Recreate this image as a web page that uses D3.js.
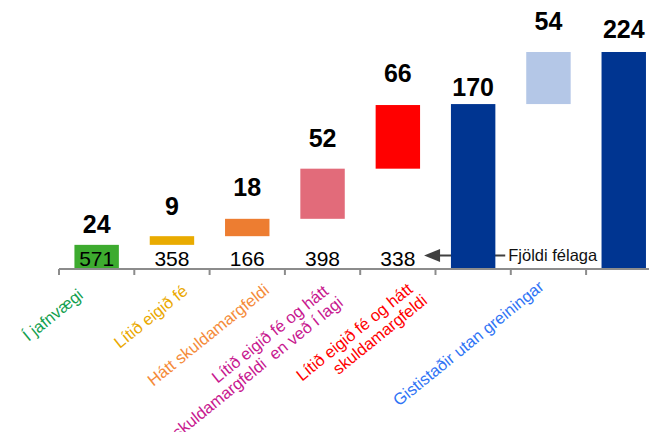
<!DOCTYPE html>
<html>
<head>
<meta charset="utf-8">
<style>
    body {
        margin: 0;
        background: #fff;
    }

    svg {
        display: block;
        font-family: 'Liberation Sans', Arial, sans-serif;
    }

    .cat {
        white-space: pre;
    }
</style>
</head>
<body>
<svg width="649" height="432"></svg>

<script src="https://d3js.org/d3.v7.min.js"></script>
<script>
    // ---- data ----
    const categories = [
        ["Í jafnvægi"],
        ["Lítið eigið fé"],
        ["Hátt skuldamargfeldi"],
        ["Lítið eigið fé og hátt", "skuldamargfeldi  en veð í lagi"],
        ["Lítið eigið fé og hátt", "skuldamargfeldi"],
        [""],
        ["Gististaðir utan greiningar"],
        [""]
    ]
    const values = [24, 9, 18, 52, 66, 170, 54, 224]
    const barTypes = ["step", "step", "step", "step", "step", "total", "step", "total"]
    const counts = [571, 358, 166, 398, 338]
    const annotationText = "Fjöldi félaga"

    // ---- styles ----
    const barColors = ["#3dab2f", "#e9ab00", "#ed7d31", "#e26b7a", "#ff0000", "#003591", "#b4c7e7", "#003591"]
    const labelColors = ["#13a04f", "#eaa800", "#f58b3a", "#c8188f", "#ff0000", "#000", "#2f74f5", "#000"]
    // gap between value label baseline and bar top
    const labelGap = [12, 21, 23, 22, 23, 8, 22, 14]
    // nudges for the rotated category labels [dx from band centre, baseline y]
    const catNudge = [[-12.5, 297], [17, 293], [23, 292], [7, 293], [16, 291], [0, 290], [-3.5, 288.5], [0, 290]]

    let width = 649
    let height = 432

    let svg = d3.select("svg")

    // running totals for the waterfall
    let running = 0
    let bars = values.map((v, i) => {
        let start, end
        if (barTypes[i] == "total") {
            start = 0
            end = v
            running = v
        } else {
            start = running
            end = running + v
            running = end
        }
        return { i: i, value: v, start: start, end: end, type: barTypes[i] }
    })

    let x = d3.scaleBand()
        .domain(d3.range(values.length))
        .range([59, 59 + 75.3 * values.length])
        .paddingInner(0.41)
        .paddingOuter(0.205)

    let y = d3.scaleLinear()
        .domain([0, 224])
        .range([268, 52])

    let step = x.step()
    let x0 = x.range()[0]

    // annotation arrow (sits behind the bars)
    let arrowY = y(0) - 12.5
    let tipX = x(4) + x.bandwidth() + 4
    let lineEnd = x(6) - 21
    svg.append("line")
        .attr("x1", tipX + 10)
        .attr("x2", lineEnd)
        .attr("y1", arrowY)
        .attr("y2", arrowY)
        .style("stroke", "#404040")
        .style("stroke-width", 2.2)
    svg.append("path")
        .attr("d", `M${tipX},${arrowY} L${tipX + 16},${arrowY - 6.5} L${tipX + 16},${arrowY + 6.5} Z`)
        .style("fill", "#404040")
    svg.append("text")
        .attr("x", lineEnd + 3)
        .attr("y", arrowY + 5.5)
        .style("font-size", "16.5px")
        .style("fill", "#111")
        .text(annotationText)

    // bars
    svg.selectAll(".bar")
        .data(bars)
        .join("rect")
        .attr("class", "bar")
        .attr("x", d => x(d.i))
        .attr("width", x.bandwidth())
        .attr("y", d => y(d.end))
        .attr("height", d => y(d.start) - y(d.end))
        .style("fill", d => barColors[d.i])

    // value labels
    svg.selectAll(".val")
        .data(bars)
        .join("text")
        .attr("class", "val")
        .attr("x", d => x(d.i) + x.bandwidth() / 2)
        .attr("y", d => y(d.end) - labelGap[d.i])
        .attr("text-anchor", "middle")
        .style("font-size", "25px")
        .style("font-weight", "bold")
        .style("fill", "#000")
        .text(d => d.value)

    // number of companies
    svg.selectAll(".count")
        .data(counts)
        .join("text")
        .attr("class", "count")
        .attr("x", (d, i) => x(i) + x.bandwidth() / 2)
        .attr("y", y(0) - 2)
        .attr("text-anchor", "middle")
        .style("font-size", "21px")
        .style("fill", "#000")
        .text(d => d)

    // axis line and ticks at category boundaries
    let axisY = y(0) + 1
    svg.append("line")
        .attr("x1", x0)
        .attr("x2", width)
        .attr("y1", axisY)
        .attr("y2", axisY)
        .style("stroke", "#8c8c8c")
        .style("stroke-width", 2)

    svg.selectAll(".tick")
        .data(d3.range(values.length))
        .join("line")
        .attr("class", "tick")
        .attr("x1", d => x0 + d * step)
        .attr("x2", d => x0 + d * step)
        .attr("y1", axisY)
        .attr("y2", axisY + 6)
        .style("stroke", "#8c8c8c")
        .style("stroke-width", 2)

    // rotated category labels, right aligned
    let cat = svg.selectAll(".cat")
        .data(categories)
        .join("text")
        .attr("class", "cat")
        .attr("transform", (d, i) => {
            let cx = x(i) + x.bandwidth() / 2 + catNudge[i][0]
            return `translate(${cx},${catNudge[i][1]}) rotate(-39)`
        })
        .attr("text-anchor", "end")
        .style("font-size", "16.5px")
        .style("fill", (d, i) => labelColors[i])

    cat.selectAll("tspan")
        .data(d => d)
        .join("tspan")
        .attr("x", (d, j) => j == 0 ? 0 : 4)
        .attr("dy", (d, j) => j == 0 ? 0 : 18)
        .text(d => d)
</script>
</body>
</html>
